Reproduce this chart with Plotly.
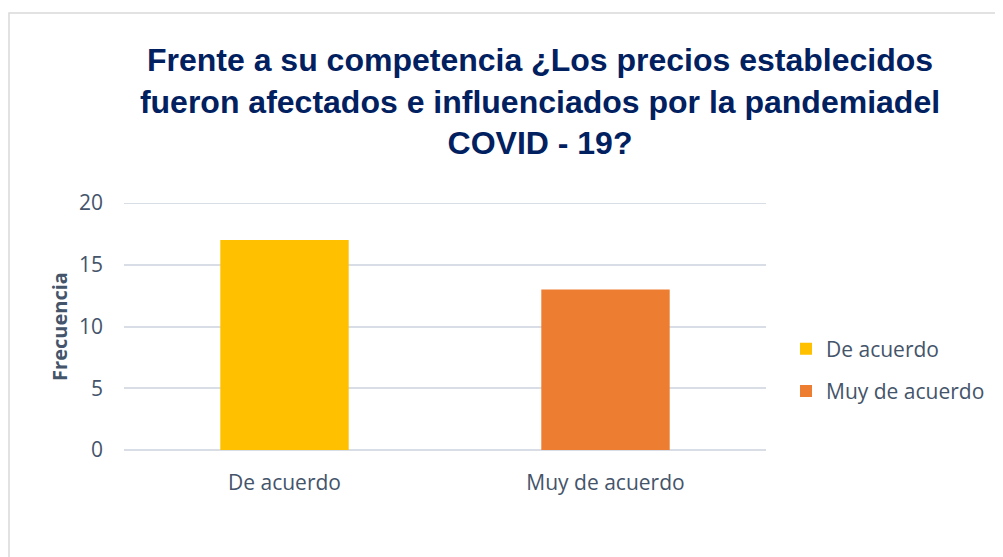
import plotly.graph_objects as go

categories = ["De acuerdo", "Muy de acuerdo"]
values = [17, 13]
colors = ["#FFC000", "#ED7D31"]
y_ticks = [0, 5, 10, 15, 20]

title_text = ("Frente a su competencia ¿Los precios establecidos<br>"
              "fueron afectados e influenciados por la pandemiadel<br>"
              "COVID - 19?")

W, H = 1003, 557
OFF = 8  # page body margin
# target plot area in the screenshot: x 124..766, y 203..450
L = 124 - OFF
T = 203 - OFF
R = OFF + W - 766
B = OFF + H - 450
pw, ph = 766 - 124, 450 - 203

fig = go.Figure()
for i, (cat, val, col) in enumerate(zip(categories, values, colors)):
    fig.add_trace(go.Bar(
        x=[cat], y=[val], name=cat, marker=dict(color=col, line=dict(width=0)),
        width=0.4, legendgroup=f"g{i}",
    ))

tick_font = dict(family="Open Sans", size=21, color="#44546A")
grid_color = "#D9DEE6"

fig.update_layout(
    width=W, height=H,
    margin=dict(l=L, r=R, t=T, b=B),
    paper_bgcolor="white", plot_bgcolor="white",
    barmode="overlay",
    title=dict(
        text=title_text, x=(540 - OFF) / W, xanchor="center", xref="container",
        y=1 - 63 / H, yanchor="top", yref="container",
        font=dict(family="Liberation Sans", size=32, color="#002060", weight="bold"),
    ),
    xaxis=dict(
        type="category", showgrid=False, showline=False, ticks="",
        tickfont=tick_font, ticklabelstandoff=18,
    ),
    yaxis=dict(
        range=[0, 20], tickvals=y_ticks, showgrid=True, gridcolor=grid_color,
        gridwidth=2, zeroline=True, zerolinecolor=grid_color, zerolinewidth=2,
        showline=False, ticks="", tickfont=tick_font, ticklabelstandoff=20,
        title=dict(text="<b>Frecuencia</b>", standoff=5,
                   font=dict(family="Open Sans", size=20, color="#44546A")),
    ),
    legend=dict(
        x=(786 - 124) / pw, xanchor="left", y=(450 - 370) / ph, yanchor="middle",
        font=dict(family="Open Sans", size=21, color="#44546A"),
        traceorder="grouped", tracegroupgap=12, itemwidth=30,
        bgcolor="rgba(0,0,0,0)",
    ),
    showlegend=True,
)

# top gridline (plotly hides the gridline at the range edge)
fig.add_shape(
    type="line", xref="paper", yref="y", x0=0, x1=1,
    y0=y_ticks[-1], y1=y_ticks[-1], line=dict(color=grid_color, width=2),
    layer="below",
)

fig.add_shape(
    type="rect", xref="paper", yref="paper",
    x0=(9 - 124) / pw, x1=(1020 - 124) / pw,
    y0=(450 - 580) / ph, y1=(450 - 13) / ph,
    line=dict(color="#D9D9D9", width=1.5), fillcolor="rgba(0,0,0,0)", layer="below",
)

fig.write_html("out.html")
